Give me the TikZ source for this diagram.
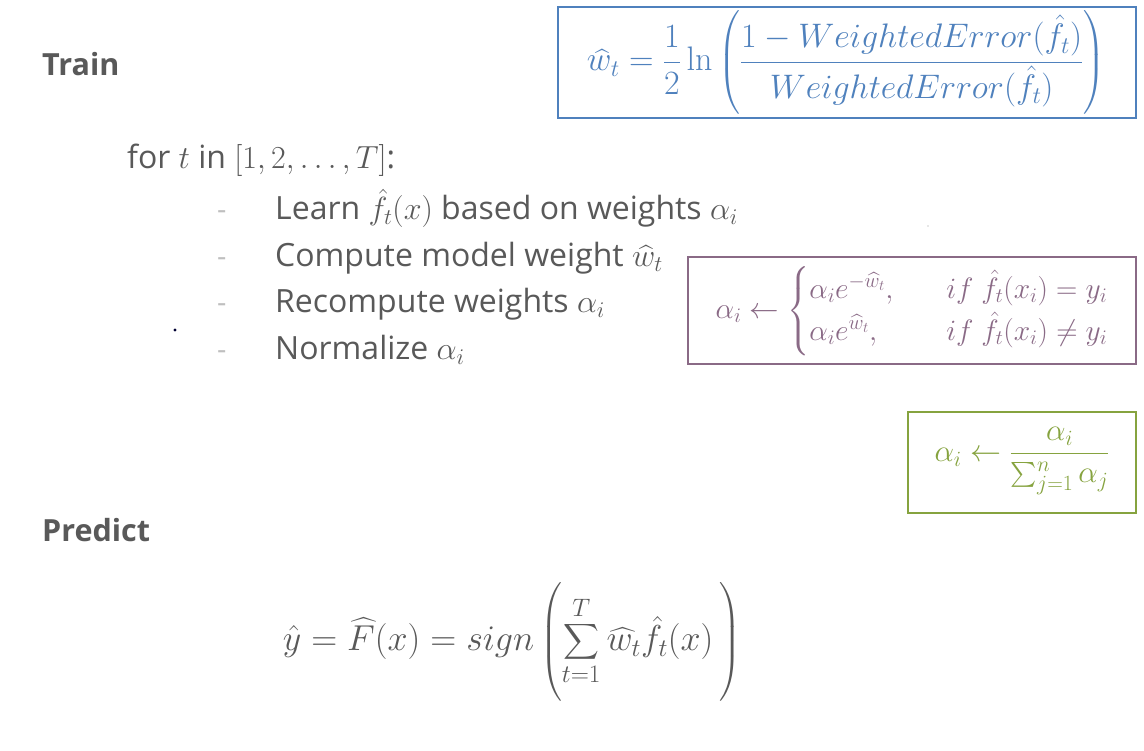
\RequirePackage{fix-cm}
\documentclass[tikz,border=0pt]{standalone}
\usepackage{amsmath}
\usepackage[no-math]{fontspec}
\setmainfont{Open Sans}
\definecolor{txtgray}{HTML}{595959}
\definecolor{dashgray}{HTML}{BFBFBF}
\definecolor{boxblue}{HTML}{4F81BD}
\definecolor{boxpurple}{HTML}{8A6A86}
\definecolor{boxgreen}{HTML}{86A33F}
\newcommand{\tallstrut}[2]{\vrule height #1 depth #2 width 0pt}
\tikzset{
  title/.style={anchor=base west, text=txtgray, font=\fontsize{30.5}{36}\selectfont\bfseries, inner sep=0pt},
  body/.style={anchor=base west, text=txtgray, font=\fontsize{32}{38}\selectfont, inner sep=0pt},
  bullet/.style={anchor=base west, text=dashgray, font=\fontsize{29}{35}\selectfont, inner sep=0pt},
  fbox/.style={draw, line width=1.6pt, inner sep=0pt},
  formula/.style={inner sep=0pt}
}
\begin{document}
\begin{tikzpicture}[x=1pt,y=-1pt]
\useasboundingbox (0,0) rectangle (1144,751);
\fill[white] (0,0) rectangle (1144,751);

\node[title] (train) at (42,76) {Train};
\node[title] (predict) at (42,541) {Predict};

\node[body] (for) at (127,169) {for $t$ in $[1,2,\ldots,T]$:};
\node[bullet] (d1) at (217,220) {-};
\node[bullet] (d2) at (217,267) {-};
\node[bullet] (d3) at (217,313) {-};
\node[bullet] (d4) at (217,360) {-};
\node[body] (l1) at (275,220) {Learn $\hat f_t(x)$ based on weights $\alpha_i$};
\node[body] (l2) at (275,267) {Compute model weight $\widehat{w}_t$};
\node[body] (l3) at (275,313) {Recompute weights $\alpha_i$};
\node[body] (l4) at (275,360) {Normalize $\alpha_i$};

% blue box
\node[fbox, draw=boxblue, minimum width=578pt, minimum height=111pt] (bbox) at (847,62.5) {};
\node[formula, text=boxblue, font=\fontsize{34}{40}\selectfont] (bform) at (846,63) {$\displaystyle \widehat{w}_t=\frac{1}{2}\ln\left(\tallstrut{1.78em}{1.32em}\frac{1-WeightedError(\hat f_t)}{WeightedError(\hat f_t)}\right)$};

% purple box
\node[fbox, draw=boxpurple, minimum width=448pt, minimum height=107pt] (pbox) at (912,310.5) {};
\node[formula, text=boxpurple, font=\fontsize{29.5}{35}\selectfont] (pform) at (912,311) {$\alpha_i\leftarrow\begin{cases}\alpha_i e^{-\widehat{w}_t}, & \hspace{0.8em} if\ \hat f_t(x_i)=y_i\\ \alpha_i e^{\widehat{w}_t}, & \hspace{0.8em} if\ \hat f_t(x_i)\neq y_i\end{cases}$};

% green box
\node[fbox, draw=boxgreen, minimum width=228pt, minimum height=101pt] (gbox) at (1022,462.5) {};
\node[formula, text=boxgreen, font=\fontsize{31}{37}\selectfont] (gform) at (1022,461) {$\alpha_i\leftarrow\dfrac{\alpha_i}{\textstyle\sum_{j=1}^{n}\alpha_j}$};

% predict formula
\node[formula, text=txtgray, font=\fontsize{36}{42}\selectfont] (yform) at (512,642) {$\displaystyle \hat y=\widehat{F}(x)=sign\left(\tallstrut{1.9em}{1.42em}\sum_{t=1}^{T}\widehat{w}_t\hat f_t(x)\,\right)$};

% stray dots
\fill[black!80!blue] (175,330) circle (1.6pt);
\fill[black!40] (928,226) circle (0.6pt);
\end{tikzpicture}
\end{document}
